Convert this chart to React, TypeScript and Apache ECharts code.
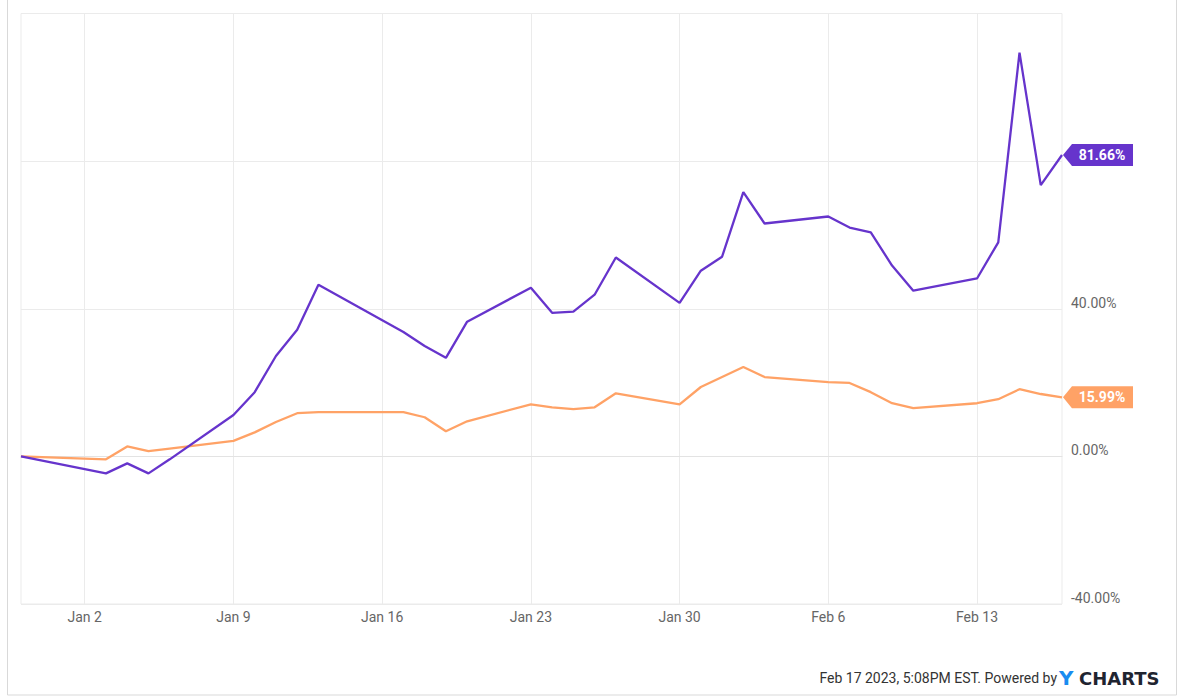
import React, { useEffect, useRef } from "react";
import * as echarts from "echarts";

const dates = [
  "2022-12-30",
  "2023-01-03", "2023-01-04", "2023-01-05", "2023-01-06",
  "2023-01-09", "2023-01-10", "2023-01-11", "2023-01-12", "2023-01-13",
  "2023-01-17", "2023-01-18", "2023-01-19", "2023-01-20",
  "2023-01-23", "2023-01-24", "2023-01-25", "2023-01-26", "2023-01-27",
  "2023-01-30", "2023-01-31", "2023-02-01", "2023-02-02", "2023-02-03",
  "2023-02-06", "2023-02-07", "2023-02-08", "2023-02-09", "2023-02-10",
  "2023-02-13", "2023-02-14", "2023-02-15", "2023-02-16", "2023-02-17",
];

const purpleValues = [
  0, -4.6, -1.9, -4.6, -0.8,
  11.2, 17.4, 27.2, 34.3, 46.5,
  33.7, 29.9, 26.7, 36.5,
  45.7, 38.9, 39.2, 43.8, 53.9,
  41.6, 50.3, 54.1, 71.6, 63.1,
  65.0, 62.0, 60.7, 51.7, 44.9,
  48.2, 58.0, 109.4, 73.5, 81.66,
];

const orangeValues = [
  0, -0.8, 2.7, 1.4, 2.1,
  4.2, 6.5, 9.3, 11.7, 12.0,
  12.0, 10.6, 6.8, 9.5,
  14.1, 13.3, 12.8, 13.3, 17.1,
  14.1, 18.8, 21.5, 24.2, 21.5,
  20.1, 19.9, 17.4, 14.4, 13.1,
  14.4, 15.5, 18.2, 16.9, 15.99,
];

const yTicks = [-40, 0, 40, 80, 120];
const yLabelsShown = [-40, 0, 40];
const footerText = "Feb 17 2023, 5:08PM EST. Powered by";

const PURPLE = "#6634cc";
const ORANGE = "#ffa266";
const DAY = 86400000;
const MONTHS = ["Jan", "Feb", "Mar", "Apr", "May", "Jun", "Jul", "Aug", "Sep", "Oct", "Nov", "Dec"];

function parseUTC(s: string): number {
  const [y, m, d] = s.split("-").map(Number);
  return Date.UTC(y, m - 1, d);
}

function fmtISO(t: number): string {
  const d = new Date(t);
  const mm = String(d.getUTCMonth() + 1).padStart(2, "0");
  const dd = String(d.getUTCDate()).padStart(2, "0");
  return d.getUTCFullYear() + "-" + mm + "-" + dd;
}

// every calendar day from the first to the last trading date
function calendarDays(): string[] {
  const out: string[] = [];
  const end = parseUTC(dates[dates.length - 1]);
  for (let t = parseUTC(dates[0]); t <= end; t += DAY) out.push(fmtISO(t));
  return out;
}

function isMonday(s: string): boolean {
  return new Date(parseUTC(s)).getUTCDay() === 1;
}

function dayLabel(s: string): string {
  const d = new Date(parseUTC(s));
  return MONTHS[d.getUTCMonth()] + " " + d.getUTCDate();
}

function endTag(values: number[], color: string) {
  const lastX = dates[dates.length - 1];
  const lastY = values[values.length - 1];
  return {
    silent: true,
    animation: false,
    data: [
      {
        coord: [lastX, lastY],
        symbol: "path://M0,11 L9,0 L70,0 L70,22 L9,22 Z",
        symbolSize: [70, 22],
        symbolOffset: [36, 0],
        itemStyle: { color },
        label: {
          show: true,
          position: "inside",
          offset: [4, 0],
          formatter: lastY.toFixed(2) + "%",
          color: "#ffffff",
          fontFamily: "Roboto",
          fontWeight: "bold",
          fontSize: 14,
        },
      },
    ],
  };
}

export default function App() {
  const ref = useRef<HTMLDivElement>(null);

  useEffect(() => {
    if (!ref.current) return;
    const chart = echarts.init(ref.current, null, { renderer: "svg" });
    const days = calendarDays();
    chart.setOption({
      animation: false,
      backgroundColor: "#ffffff",
      grid: {
        left: 21,
        right: 121,
        top: 13.5,
        bottom: 96,
        containLabel: false,
        show: true,
        borderColor: "#ebebeb",
        borderWidth: 1,
      },
      xAxis: {
        type: "category",
        data: days,
        boundaryGap: false,
        axisLine: { show: true, lineStyle: { color: "#e3e3e3", width: 1 } },
        axisTick: { show: false },
        splitLine: {
          show: true,
          interval: (_i: number, v: string) => isMonday(v),
          lineStyle: { color: "#ebebeb", width: 1 },
        },
        axisLabel: {
          interval: (_i: number, v: string) => isMonday(v),
          formatter: (v: string) => dayLabel(v),
          color: "#666666",
          fontFamily: "Roboto",
          fontSize: 14,
          margin: 6,
        },
      },
      yAxis: {
        type: "value",
        position: "right",
        min: yTicks[0],
        max: yTicks[yTicks.length - 1],
        interval: 40,
        axisLine: { show: false },
        axisTick: { show: false },
        splitLine: { show: true, lineStyle: { color: "#ebebeb", width: 1 } },
        axisLabel: {
          formatter: (v: number) => (yLabelsShown.includes(v) ? v.toFixed(2) + "%" : ""),
          color: "#666666",
          fontFamily: "Roboto",
          fontSize: 14,
          margin: 9,
          verticalAlign: "bottom",
          lineHeight: 12,
        },
      },
      series: [
        {
          name: "Orange series",
          type: "line",
          data: dates.map((d, i) => [d, orangeValues[i]]),
          showSymbol: false,
          lineStyle: { color: ORANGE, width: 2.3 },
          itemStyle: { color: ORANGE },
          z: 3,
          markPoint: endTag(orangeValues, ORANGE),
        },
        {
          name: "Purple series",
          type: "line",
          data: dates.map((d, i) => [d, purpleValues[i]]),
          showSymbol: false,
          lineStyle: { color: PURPLE, width: 2.3 },
          itemStyle: { color: PURPLE },
          z: 4,
          markPoint: endTag(purpleValues, PURPLE),
        },
      ],
      graphic: [
        {
          type: "rect",
          silent: true,
          shape: { x: 7.5, y: -10, width: 1169, height: 705 },
          style: { fill: "none", stroke: "#d9d9d9", lineWidth: 1 },
        },
        {
          type: "text",
          right: 126,
          top: 671,
          style: {
            text: footerText,
            fill: "#333333",
            font: "14px Roboto",
          },
        },
        {
          type: "text",
          left: 1059,
          top: 668,
          style: {
            text: "Y",
            fill: "#1a8cf0",
            font: "bold 20px 'DejaVu Sans'",
          },
        },
        {
          type: "text",
          left: 1079,
          top: 669,
          style: {
            text: "CHARTS",
            fill: "#1f2430",
            font: "bold 18px 'DejaVu Sans'",
          },
        },
      ],
    });
    return () => chart.dispose();
  }, []);

  return (
    <div
      ref={ref}
      style={{ position: "fixed", left: 0, top: 0, width: 1183, height: 700 }}
    />
  );
}
